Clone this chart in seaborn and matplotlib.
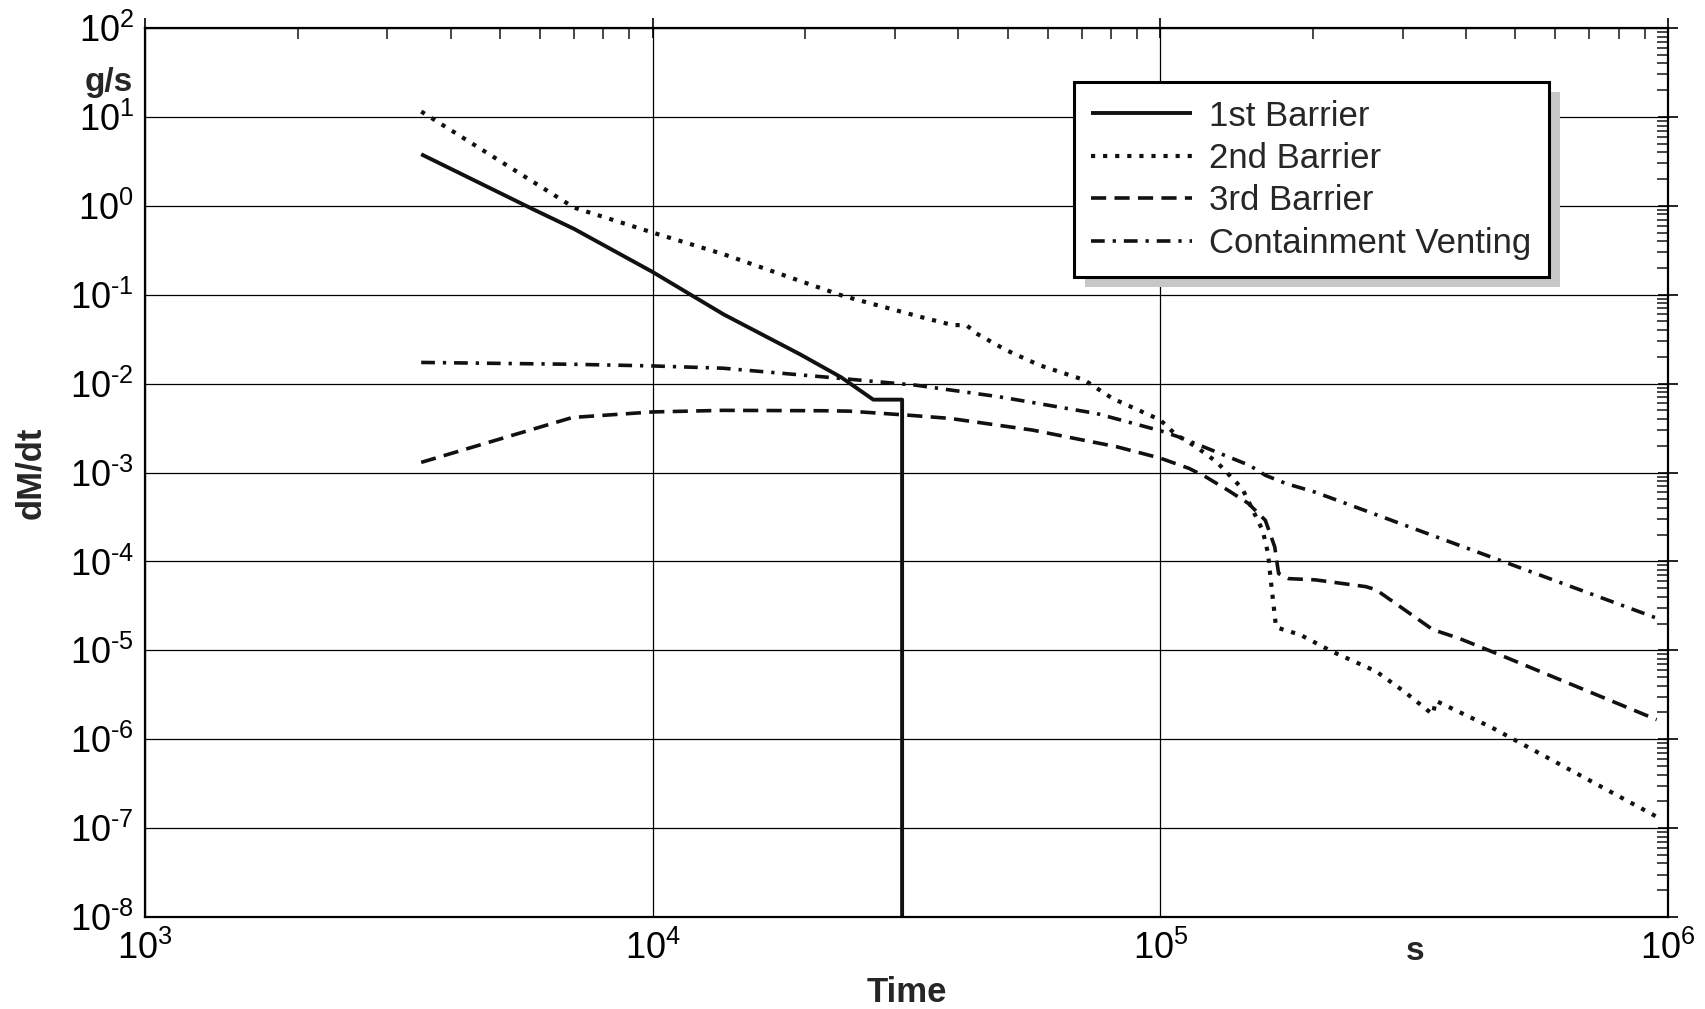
import numpy as np
import matplotlib
matplotlib.use("Agg")
import matplotlib.pyplot as plt
import seaborn as sns
from matplotlib.ticker import LogLocator, NullFormatter, FuncFormatter

# ---------------- data ----------------
t_first = [3.5e3, 5.8e3, 7.0e3, 1.0e4, 1.38e4, 1.95e4, 2.35e4, 2.72e4, 3.1e4, 3.1e4]
m_first = [3.8, 0.92, 0.55, 0.18, 0.060, 0.0214, 0.0118, 0.0066, 0.0066, 1e-9]

t_second = [3.5e3, 7.0e3, 1.0e4, 1.38e4, 2.37e4, 3.36e4, 3.9e4, 4.15e4, 4.34e4, 4.97e4,
            5.78e4, 7.08e4, 8.05e4, 1.0e5, 1.07e5, 1.175e5, 1.29e5, 1.45e5, 1.59e5, 1.63e5,
            1.65e5, 1.69e5, 1.76e5, 1.88e5, 2.17e5, 2.66e5, 3.03e5, 3.44e5, 3.49e5, 4.5e5, 9.6e5]
m_second = [11.5, 0.955, 0.5, 0.285, 0.097, 0.0565, 0.0455, 0.0455, 0.0367, 0.0238,
            0.0161, 0.011, 0.0068, 0.0039, 0.0027, 0.00195, 0.00132, 6.6e-4, 2.24e-4, 1.23e-4,
            6.2e-5, 1.83e-5, 1.68e-5, 1.51e-5, 9.8e-6, 5.8e-6, 3.4e-6, 1.9e-6, 2.7e-6, 1.35e-6, 1.3e-7]

t_third = [3.5e3, 6.95e3, 1.0e4, 1.375e4, 2.17e4, 2.44e4, 3.21e4, 3.85e4, 5.6e4, 8.2e4,
           1.0e5, 1.14e5, 1.23e5, 1.36e5, 1.49e5, 1.61e5, 1.68e5, 1.71e5, 1.79e5, 2.02e5,
           2.54e5, 2.66e5, 3.44e5, 3.88e5, 4.64e5, 9.5e5]
m_third = [1.3e-3, 4.16e-3, 4.8e-3, 5.0e-3, 4.95e-3, 4.9e-3, 4.4e-3, 4.06e-3, 3.0e-3, 1.95e-3,
           1.45e-3, 1.11e-3, 8.9e-4, 6.3e-4, 4.5e-4, 2.9e-4, 1.46e-4, 7.3e-5, 6.4e-5, 6.2e-5,
           5.2e-5, 4.8e-5, 1.71e-5, 1.36e-5, 9.0e-6, 1.66e-6]

t_vent = [3.5e3, 6.95e3, 1.0e4, 1.375e4, 2.17e4, 3.3e4, 4.82e4, 7.5e4, 1.0e5, 1.09e5,
          1.29e5, 1.5e5, 1.61e5, 1.77e5, 2.02e5, 9.5e5]
m_vent = [0.0173, 0.0165, 0.0158, 0.0149, 0.0119, 9.6e-3, 7.1e-3, 4.6e-3, 2.95e-3, 2.5e-3,
          1.7e-3, 1.2e-3, 9.3e-4, 7.5e-4, 6.0e-4, 2.3e-5]

series_labels = ["1st Barrier", "2nd Barrier", "3rd Barrier", "Containment Venting"]

# ---------------- style ----------------
sns.set_style("white")
plt.rcParams["font.family"] = ["Liberation Sans", "DejaVu Sans"]
plt.rcParams["mathtext.fontset"] = "custom"
plt.rcParams["mathtext.rm"] = "Liberation Sans"
plt.rcParams["mathtext.it"] = "Liberation Sans:italic"
plt.rcParams["mathtext.bf"] = "Liberation Sans:bold"
plt.rcParams["mathtext.default"] = "regular"
plt.rcParams["axes.unicode_minus"] = False

W, H = 1706, 1009
fig = plt.figure(figsize=(W / 100, H / 100), dpi=100)
L, R, T, B = 145, 1668, 28, 917
ax = fig.add_axes([L / W, 1 - B / H, (R - L) / W, (B - T) / H])
ax.set_xscale("log")
ax.set_yscale("log")

styles = [
    dict(lw=2.8, dashes=None),
    dict(lw=3.0, dashes=(1.0, 1.9)),
    dict(lw=2.6, dashes=(4.2, 2.3)),
    dict(lw=2.6, dashes=(3.8, 2.2, 0.9, 2.2)),
]
data = [(t_first, m_first), (t_second, m_second), (t_third, m_third), (t_vent, m_vent)]
for (tx, my), lab, st in zip(data, series_labels, styles):
    sns.lineplot(x=tx, y=my, ax=ax, color="#111111", lw=st["lw"], sort=False,
                 estimator=None, label=lab)
    line = ax.lines[-1]
    if st["dashes"] is not None:
        line.set_dashes(st["dashes"])
    line.set_solid_capstyle("butt")
    line.set_dash_capstyle("butt")

ax.set_xlim(1e3, 1e6)
ax.set_ylim(1e-8, 1e2)


def pow10(v, pos):
    e = int(round(np.log10(v)))
    if e < 0:
        return r"$10^{\text{-}%d}$" % (-e)
    return r"$10^{%d}$" % e


ax.xaxis.set_major_locator(LogLocator(base=10, numticks=10))
ax.xaxis.set_minor_locator(LogLocator(base=10, subs=np.arange(2, 10), numticks=100))
ax.yaxis.set_major_locator(LogLocator(base=10, numticks=20))
ax.yaxis.set_minor_locator(LogLocator(base=10, subs=np.arange(2, 10), numticks=200))
ax.xaxis.set_major_formatter(FuncFormatter(pow10))
ax.yaxis.set_major_formatter(FuncFormatter(pow10))
ax.xaxis.set_minor_formatter(NullFormatter())
ax.yaxis.set_minor_formatter(NullFormatter())

ax.tick_params(which="major", direction="inout", length=14, width=1.2, top=True, right=True,
               labelsize=26, colors="black")
ax.tick_params(axis="x", which="major", pad=3)
ax.tick_params(axis="y", which="major", pad=1)
ax.tick_params(which="minor", direction="in", length=8, width=1.2, top=True, right=True)

ax.grid(True, which="major", color="black", lw=0.9)
ax.grid(False, which="minor")
for s in ax.spines.values():
    s.set_color("black")
    s.set_linewidth(1.6)

ax.set_xlabel("Time", fontsize=25, fontweight="bold")
ax.xaxis.set_label_coords(0.5, -0.066)
ax.set_ylabel("dM/dt", fontsize=25, fontweight="bold")
ax.yaxis.set_label_coords(-0.064, 0.5)

fig.text(109 / W, 1 - 82 / H, "g/s", ha="center", va="center", fontsize=24, fontweight="bold")
fig.text(1415 / W, 1 - 952 / H, "s", ha="center", va="center", fontsize=24, fontweight="bold")

leg = ax.legend(loc="upper left", bbox_to_anchor=(0.61, 0.939), borderaxespad=0,
                fontsize=25, frameon=True, fancybox=False, edgecolor="black",
                framealpha=1, facecolor="white", handlelength=2.9, handletextpad=0.5,
                labelspacing=0.27, borderpad=0.5,
                shadow={"ox": 8, "oy": -7, "facecolor": "0.78", "edgecolor": "none", "alpha": 1})
leg.get_frame().set_linewidth(2.2)

fig.savefig("out.png", dpi=100, facecolor="white")
